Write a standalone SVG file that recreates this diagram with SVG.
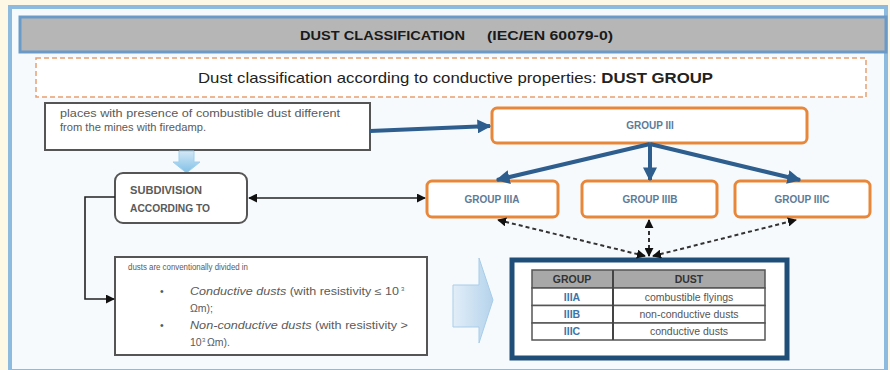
<svg xmlns="http://www.w3.org/2000/svg" width="890" height="370" viewBox="0 0 890 370">
<defs>
<style>
.t{font-family:"Liberation Sans",Arial,sans-serif}
.box{fill:#ffffff;stroke:#555555;stroke-width:2}
.og{fill:#ffffff;stroke:#e8873a;stroke-width:3}
.gl{font-family:"Liberation Sans",Arial,sans-serif;font-size:10px;font-weight:bold;fill:#5d7b98;text-anchor:middle}
.gray{fill:#5a5a5a}
.blue{stroke:#2d5e8e;stroke-width:4;fill:none}
.thin{stroke:#222222;stroke-width:1.6;fill:none}
.dash{stroke:#333333;stroke-width:2;fill:none;stroke-dasharray:4 3}
.cell{fill:#ffffff;stroke:#555555;stroke-width:1.5}
</style>
<marker id="bh" viewBox="0 0 10 10" refX="9" refY="5" markerWidth="14" markerHeight="14" markerUnits="userSpaceOnUse" orient="auto-start-reverse"><path d="M0,0 L10,5 L0,10 z" fill="#2d5e8e"/></marker>
<marker id="kh" viewBox="0 0 10 10" refX="9" refY="5" markerWidth="9" markerHeight="9" markerUnits="userSpaceOnUse" orient="auto-start-reverse"><path d="M0,0 L10,5 L0,10 z" fill="#111111"/></marker>
<linearGradient id="gd" x1="0" y1="0" x2="0" y2="1"><stop offset="0" stop-color="#d4e8f6"/><stop offset="1" stop-color="#7fc0e6"/></linearGradient>
<linearGradient id="gr" x1="0" y1="0" x2="1" y2="0"><stop offset="0" stop-color="#e2eef8"/><stop offset="1" stop-color="#b5d3ec"/></linearGradient>
</defs>
<rect x="0" y="0" width="890" height="370" fill="#fdf8e6"/>
<rect x="10" y="7" width="876" height="364" fill="#f6fafd" stroke="#8dbbe0" stroke-width="4"/>
<g id="title">
<rect x="20" y="17" width="866" height="35" fill="#b6b6b6" stroke="#6a9bc8" stroke-width="3"/>
<text class="t" x="300" y="40" font-size="13.5" font-weight="bold" fill="#1a1a1a" textLength="165" lengthAdjust="spacingAndGlyphs">DUST CLASSIFICATION</text>
<text class="t" x="487" y="40" font-size="13.5" font-weight="bold" fill="#1a1a1a" textLength="126" lengthAdjust="spacingAndGlyphs">(IEC/EN 60079-0)</text>
</g>
<g id="subtitle">
<rect x="36" y="58" width="830" height="39" fill="#ffffff" stroke="#e8a070" stroke-width="1.5" stroke-dasharray="5 3"/>
<text class="t" x="198" y="83" font-size="14.5" fill="#222222" textLength="515" lengthAdjust="spacingAndGlyphs">Dust classification according to conductive properties: <tspan font-weight="bold">DUST GROUP</tspan></text>
</g>
<g id="places">
<rect class="box" x="45" y="103" width="325" height="47"/>
<text class="t gray" x="60" y="117" font-size="10" textLength="280" lengthAdjust="spacingAndGlyphs">places with presence of combustible dust different</text>
<text class="t gray" x="60" y="131" font-size="10" textLength="146" lengthAdjust="spacingAndGlyphs">from the mines with firedamp.</text>
</g>
<g id="down-arrow">
<path d="M179,151 L194,151 L194,162 L200,162 L186.5,173 L173,162 L179,162 z" fill="url(#gd)" stroke="#9fd0ee" stroke-width="1"/>
</g>
<g id="subdivision">
<rect class="box" x="115" y="173" width="132" height="50" rx="8"/>
<text class="t gray" x="130" y="194" font-size="10" font-weight="bold" textLength="72" lengthAdjust="spacingAndGlyphs">SUBDIVISION</text>
<text class="t gray" x="130" y="212" font-size="10" font-weight="bold" textLength="80" lengthAdjust="spacingAndGlyphs">ACCORDING TO</text>
</g>
<g id="dusts">
<rect class="box" x="115" y="257" width="312" height="98"/>
<g class="t gray" font-size="10.5">
<text x="128" y="270" font-size="9.5" textLength="120" lengthAdjust="spacingAndGlyphs">dusts are conventionally divided in</text>
<text x="160" y="295">•</text>
<text x="190" y="295" textLength="209" lengthAdjust="spacingAndGlyphs"><tspan font-style="italic">Conductive dusts</tspan> (with resistivity ≤ 10</text>
<text x="401" y="291" font-size="6">3</text>
<text x="190" y="312">Ωm);</text>
<text x="160" y="329">•</text>
<text x="190" y="329" textLength="218" lengthAdjust="spacingAndGlyphs"><tspan font-style="italic">Non-conductive dusts</tspan> (with resistivity  &gt;</text>
<text x="190" y="346">10</text>
<text x="202" y="342" font-size="6">3</text>
<text x="207" y="346">Ωm).</text>
</g>
</g>
<g id="group3">
<rect class="og" x="492" y="108" width="315" height="35" rx="5"/>
<text class="gl" x="650" y="129">GROUP III</text>
</g>
<g id="group3a">
<rect class="og" x="427" y="181" width="131" height="36" rx="5"/>
<text class="gl" x="492" y="203">GROUP IIIA</text>
</g>
<g id="group3b">
<rect class="og" x="582" y="181" width="135" height="36" rx="5"/>
<text class="gl" x="650" y="203">GROUP IIIB</text>
</g>
<g id="group3c">
<rect class="og" x="735" y="181" width="135" height="36" rx="5"/>
<text class="gl" x="802" y="203">GROUP IIIC</text>
</g>
<g id="right-arrow">
<path d="M453,285 L479,285 L479,258 L493,300 L479,343 L479,327 L453,327 z" fill="url(#gr)" stroke="#a9cde8" stroke-width="1"/>
</g>
<g id="table">
<rect x="512" y="260" width="275" height="98" fill="#ffffff" stroke="#1f4e79" stroke-width="5"/>
<rect x="532" y="270" width="233" height="18" fill="#a8a8a8" stroke="#555555" stroke-width="1.5"/>
<rect class="cell" x="532" y="288" width="233" height="17.5"/>
<rect class="cell" x="532" y="305.5" width="233" height="17.5"/>
<rect class="cell" x="532" y="323" width="233" height="17"/>
<line x1="613" y1="270" x2="613" y2="340" stroke="#444444" stroke-width="2"/>
<g class="t" font-size="10.5" text-anchor="middle">
<text x="572" y="283" font-weight="bold" fill="#333333">GROUP</text>
<text x="689" y="283" font-weight="bold" fill="#333333">DUST</text>
<text x="572" y="301" font-weight="bold" fill="#3f74a8">IIIA</text>
<text x="689" y="301" fill="#555555">combustible flyings</text>
<text x="572" y="318" font-weight="bold" fill="#3f74a8">IIIB</text>
<text x="689" y="318" fill="#555555">non-conductive dusts</text>
<text x="572" y="335" font-weight="bold" fill="#3f74a8">IIIC</text>
<text x="689" y="335" fill="#555555">conductive dusts</text>
</g>
</g>
<g id="connectors">
<line class="blue" x1="370" y1="131" x2="490" y2="126" marker-end="url(#bh)"/>
<line class="blue" x1="650" y1="144" x2="497" y2="180" marker-end="url(#bh)"/>
<line class="blue" x1="650" y1="144" x2="650" y2="180" marker-end="url(#bh)"/>
<line class="blue" x1="650" y1="144" x2="800" y2="180" marker-end="url(#bh)"/>
<line class="thin" x1="249" y1="198" x2="425" y2="198" marker-start="url(#kh)" marker-end="url(#kh)"/>
<polyline class="thin" points="115,197 85,197 85,299 114,299" marker-end="url(#kh)"/>
<line class="dash" x1="645" y1="256" x2="498" y2="220" marker-start="url(#kh)" marker-end="url(#kh)"/>
<line class="dash" x1="649" y1="256" x2="649" y2="220" marker-start="url(#kh)" marker-end="url(#kh)"/>
<line class="dash" x1="653" y1="256" x2="796" y2="220" marker-start="url(#kh)" marker-end="url(#kh)"/>
</g>
</svg>
